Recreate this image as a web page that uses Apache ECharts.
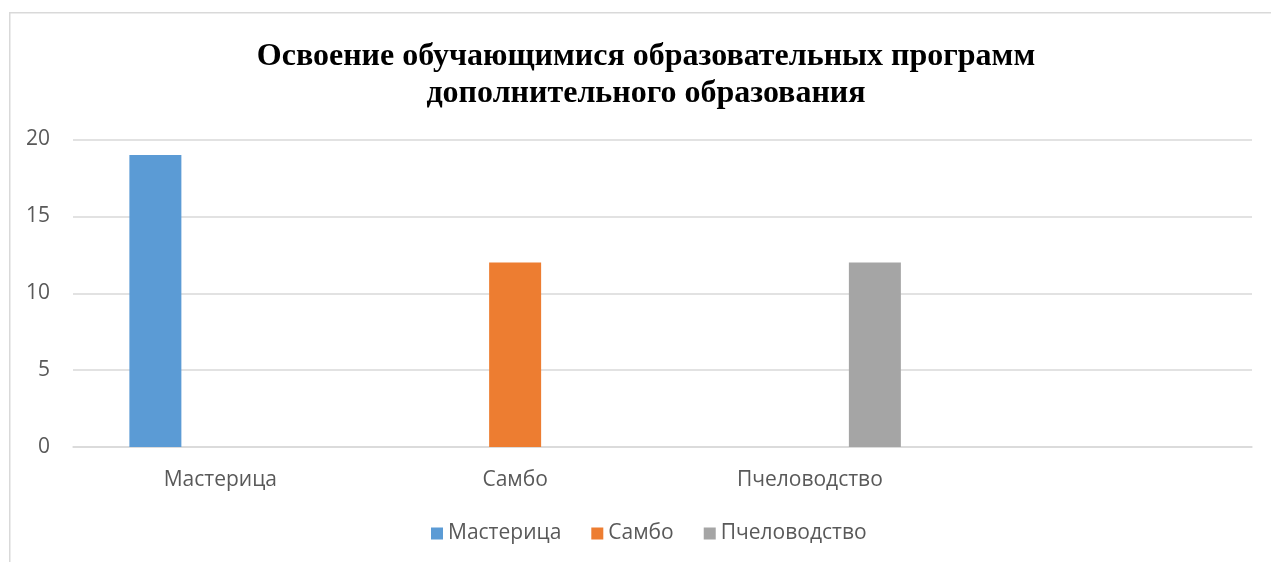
<!DOCTYPE html>
<html>
<head>
<meta charset="utf-8">
<script src="https://cdn.jsdelivr.net/npm/echarts@6/dist/echarts.min.js"></script>
<style>
html,body{margin:0;padding:0;background:#fff;}
#chart{width:1271px;height:562px;}
</style>
</head>
<body>
<div id="chart"></div>
<script>
const categories = ['Мастерица', 'Самбо', 'Пчеловодство', ''];
const seriesNames = ['Мастерица', 'Самбо', 'Пчеловодство'];
const masteritsa = [19, null, null, null];
const sambo = [null, 12, null, null];
const pchelovodstvo = [null, null, 12, null];
const yTicks = [0, 5, 10, 15, 20];
const colors = ['#5b9bd5', '#ed7d31', '#a5a5a5'];

const chart = echarts.init(document.getElementById('chart'));
const dataSets = [masteritsa, sambo, pchelovodstvo];
chart.setOption({
  animation: false,
  graphic: [{
    type: 'rect', left: 9, top: 12, z: -10,
    shape: { width: 1300, height: 600 },
    style: { fill: '#fff', stroke: '#d9d9d9', lineWidth: 1.5 }
  }],
  title: {
    text: 'Освоение обучающимися образовательных программ\nдополнительного образования',
    left: 641, top: 33, textAlign: 'center',
    textStyle: { fontFamily: 'Liberation Serif', fontWeight: 'bold', fontSize: 32, lineHeight: 37, color: '#000' }
  },
  legend: {
    data: seriesNames,
    left: 426, top: 518,
    itemWidth: 12, itemHeight: 12, itemGap: 30,
    icon: 'rect',
    textStyle: { fontFamily: 'Open Sans', fontSize: 21, color: '#595959' }
  },
  grid: { left: 73, right: 19, top: 139.5, bottom: 115, containLabel: false },
  xAxis: {
    type: 'category', data: categories,
    axisLine: { show: true, lineStyle: { color: '#d9d9d9', width: 1.5 } },
    axisTick: { show: false },
    axisLabel: { fontFamily: 'Open Sans', fontSize: 21, color: '#595959', margin: 23 }
  },
  yAxis: {
    type: 'value', min: yTicks[0], max: yTicks[yTicks.length - 1], interval: 5,
    axisLine: { show: false }, axisTick: { show: false },
    splitLine: { lineStyle: { color: '#d9d9d9', width: 1.5 } },
    axisLabel: { fontFamily: 'Open Sans', fontSize: 21, color: '#595959', margin: 23 }
  },
  series: seriesNames.map((name, i) => ({
    name, type: 'bar', data: dataSets[i],
    barWidth: 52, barGap: '25%',
    itemStyle: { color: colors[i] }
  }))
});
</script>
</body>
</html>
